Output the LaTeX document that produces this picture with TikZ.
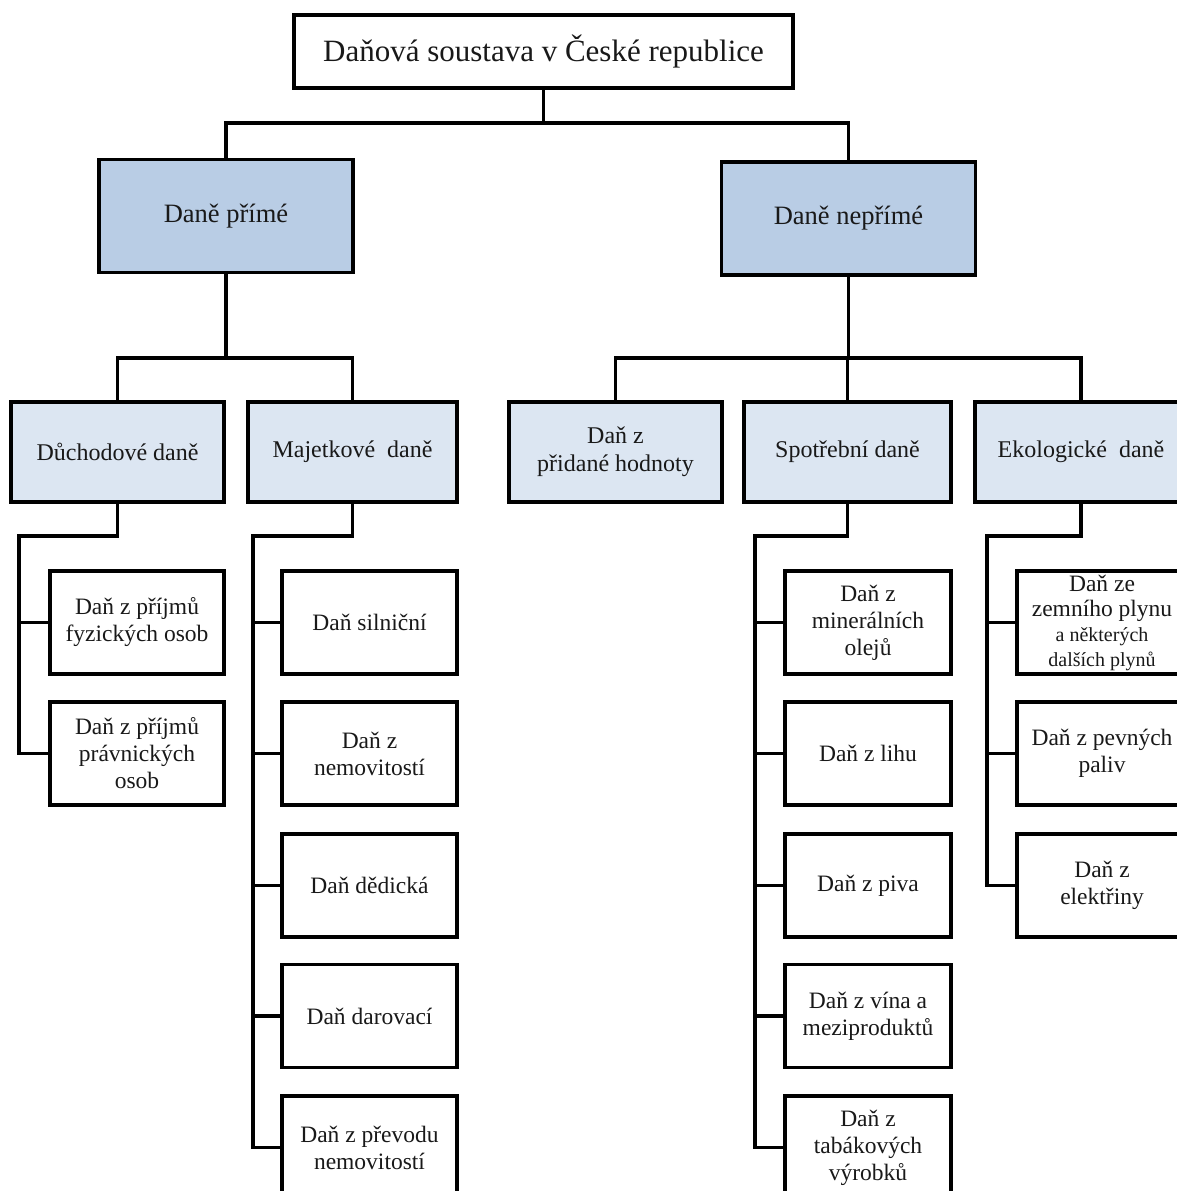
\documentclass[tikz,border=0pt]{standalone}
\usepackage{fontspec}
\setmainfont{Liberation Serif}
\usepackage{xcolor}
\usepackage{tikz}
\usetikzlibrary{positioning}

\definecolor{modra}{HTML}{B9CDE5}
\definecolor{svetla}{HTML}{DCE6F2}

\begin{document}
\begin{tikzpicture}[
      x=1pt, y=-1pt,
      box/.style={draw=black, line width=3.2pt, inner sep=0pt, align=center,
                  text=black!90},
      rootbox/.style={box, fill=white, minimum width=499pt, minimum height=73pt,
                      font=\fontsize{31}{36}\selectfont},
      lvlone/.style={box, fill=modra, minimum width=254pt, minimum height=113pt,
                     font=\fontsize{26.5}{30}\selectfont},
      lvltwo/.style={box, fill=svetla, minimum height=100pt,
                     font=\fontsize{24}{28}\selectfont},
      leaf/.style={box, fill=white, minimum height=103pt,
                   font=\fontsize{23.5}{27}\selectfont},
      link/.style={line width=3.2pt, line join=miter}
    ]
    \useasboundingbox (0,0) rectangle (1177,1191);

    % Koren
    \node[rootbox] (root) at (543.5,51.5) {Daňová soustava v České republice};

    % Uroven 1
    \node[lvlone] (prime) at (226,216) {Daně přímé};
    \node[lvlone] (neprime) at (848.5,218.5) {Daně nepřímé};

    % Uroven 2
    \node[lvltwo, minimum width=213pt] (duch) at (117.5,452) {Důchodové daně};
    \node[lvltwo, minimum width=209pt] (majet) at (352.5,452) {Majetkové~ daně};
    \node[lvltwo, minimum width=213pt] (dph) at (615.5,452) {Daň z\\přidané hodnoty};
    \node[lvltwo, minimum width=207pt] (spotr) at (847.5,452) {Spotřební daně};
    \node[lvltwo, minimum width=212pt] (eko) at (1081,452) {Ekologické~ daně};

    % Duchodove dane
    \node[leaf, minimum width=174pt] (dfo) at (137,622.5) {Daň z příjmů\\fyzických osob};
    \node[leaf, minimum width=174pt] (dpo) at (137,753.5) {Daň z příjmů\\právnických\\osob};

    % Majetkove dane
    \node[leaf, minimum width=175pt] (silnicni) at (369.5,622.5) {Daň silniční};
    \node[leaf, minimum width=175pt] (nemov) at (369.5,753.5) {Daň z\\nemovitostí};
    \node[leaf, minimum width=175pt] (dedic) at (369.5,885.5) {Daň dědická};
    \node[leaf, minimum width=175pt] (darov) at (369.5,1016) {Daň darovací};
    \node[leaf, minimum width=175pt] (prevod) at (369.5,1147.5) {Daň z převodu\\nemovitostí};

    % Spotrebni dane
    \node[leaf, minimum width=166pt] (miner) at (868,622.5) {Daň z\\minerálních\\olejů};
    \node[leaf, minimum width=166pt] (lih) at (868,753.5) {Daň z lihu};
    \node[leaf, minimum width=166pt] (pivo) at (868,885.5) {Daň z piva};
    \node[leaf, minimum width=166pt] (vino) at (868,1016) {Daň z vína a\\meziproduktů};
    \node[leaf, minimum width=166pt] (tabak) at (868,1147.5) {Daň z\\tabákových\\výrobků};

    % Ekologicke dane
    \node[leaf, minimum width=170pt, font=\fontsize{23.5}{25}\selectfont] (plyn) at (1102,622.5)
      {Daň ze\\zemního plynu\\{\fontsize{20}{25}\selectfont a některých}\\{\fontsize{20}{25}\selectfont dalších plynů}};
    \node[leaf, minimum width=170pt] (paliva) at (1102,753.5) {Daň z pevných\\paliv};
    \node[leaf, minimum width=170pt] (elektr) at (1102,885.5) {Daň z\\elektřiny};

    % Uzly spojnic
    \coordinate (t0) at (543.5,123);
    \coordinate (p0) at (226,358);
    \coordinate (n0) at (848.5,358);
    \coordinate (d0) at (19,536);
    \coordinate (m0) at (253,536);
    \coordinate (s0) at (755,536);
    \coordinate (e0) at (987,536);

    % Spojnice
    \draw[link] (root.south) |- (t0) -| (prime.north);
    \draw[link] (t0) -| (neprime.north);
    \draw[link] (prime.south) |- (p0) -| (duch.north);
    \draw[link] (p0) -| (majet.north);
    \draw[link] (neprime.south) |- (n0) -| (dph.north);
    \draw[link] (n0) -| (eko.north);
    \draw[link] (n0) -| (spotr.north);

    \foreach \c in {dfo,dpo} \draw[link] (duch.south) |- (d0) |- (\c.west);
    \foreach \c in {silnicni,nemov,dedic,darov,prevod} \draw[link] (majet.south) |- (m0) |- (\c.west);
    \foreach \c in {miner,lih,pivo,vino,tabak} \draw[link] (spotr.south) |- (s0) |- (\c.west);
    \foreach \c in {plyn,paliva,elektr} \draw[link] (eko.south) |- (e0) |- (\c.west);
  \end{tikzpicture}
\end{document}
